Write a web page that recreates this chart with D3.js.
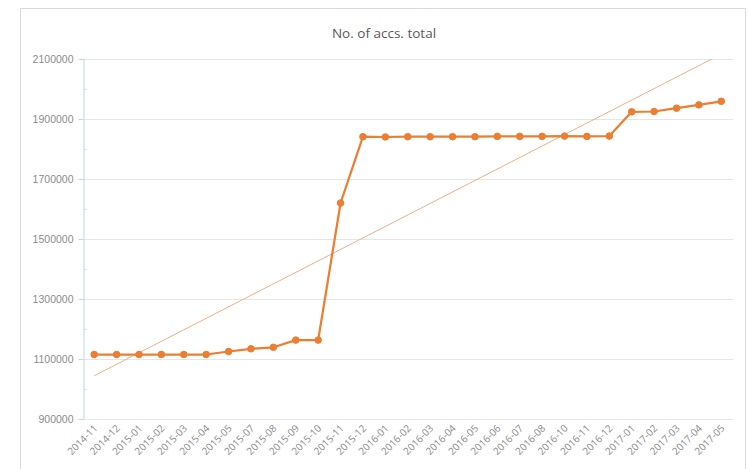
<!DOCTYPE html>
<html>
<head>
<meta charset="utf-8">
<script src="https://cdn.jsdelivr.net/npm/d3@7"></script>
<style>
  body { margin: 0; background: #fff; }
  svg { display: block; font-family: "Open Sans", "Liberation Sans", sans-serif; }
</style>
</head>
<body>
<div id="chartDiv"></div>
<script>
const months = ["2014-11", "2014-12", "2015-01", "2015-02", "2015-03", "2015-04", "2015-05",
    "2015-07", "2015-08", "2015-09", "2015-10", "2015-11", "2015-12", "2016-01", "2016-02",
    "2016-03", "2016-04", "2016-05", "2016-06", "2016-07", "2016-08", "2016-10", "2016-11",
    "2016-12", "2017-01", "2017-02", "2017-03", "2017-04", "2017-05"]
const accounts = [1115000, 1115000, 1115000, 1115000, 1115000, 1115000, 1125000,
    1134000, 1139000, 1163000, 1163000, 1620000, 1841000, 1840000, 1841000,
    1841000, 1841000, 1841000, 1842000, 1842000, 1842000, 1843000, 1842000,
    1843000, 1924000, 1925000, 1936000, 1947000, 1959000]
const yTicks = [900000, 1100000, 1300000, 1500000, 1700000, 1900000, 2100000]
const title = "No. of accs. total"

const width = 748
const height = 469
const margin = { left: 83, right: 15, top: 59, bottom: 50 }
const lineColor = "#ED7D31"
const trendColor = "#F5AD85"

const svg = d3.select("#chartDiv")
    .append("svg")
    .attr("width", width)
    .attr("height", height)

// chart area border
svg.append("rect")
    .attr("x", 20.5)
    .attr("y", 8.5)
    .attr("width", 725)
    .attr("height", 470)
    .attr("fill", "#fff")
    .attr("stroke", "#D9D9D9")

const xScale = d3.scaleBand()
    .domain(months)
    .range([margin.left, width - margin.right - 0.5])

const yScale = d3.scaleLinear()
    .domain([900000, 2100000])
    .range([height - margin.bottom, margin.top])

const cx = d => xScale(d) + xScale.bandwidth() / 2

// gridlines
svg.append("g")
    .selectAll("line")
    .data(yTicks)
    .enter()
    .append("line")
    .attr("x1", margin.left)
    .attr("x2", width - margin.right)
    .attr("y1", d => yScale(d) + 0.5)
    .attr("y2", d => yScale(d) + 0.5)
    .attr("stroke", "#E6E6E6")

// y-axis
const leftAxis = d3.axisLeft(yScale)
    .tickValues(yTicks)
    .tickFormat(d3.format("d"))
    .tickSize(5)
    .tickSizeOuter(0)
    .tickPadding(5)

const leftAxisGroup = svg.append("g")
    .attr("class", "leftAxis")
    .attr("transform", `translate(${margin.left + 0.5}, 0)`)
    .call(leftAxis)
leftAxisGroup.select(".domain").attr("stroke", "#BDD7EE")
leftAxisGroup.selectAll(".tick line").attr("stroke", "#BDD7EE")
leftAxisGroup.selectAll(".tick text")
    .attr("fill", "#8C8C8C")
    .style("font-size", "10.5px")

// minor ticks inside the axis
const minorTicks = d3.pairs(yTicks).map(([a, b]) => (a + b) / 2)
svg.append("g")
    .selectAll("line")
    .data(minorTicks)
    .enter()
    .append("line")
    .attr("x1", margin.left)
    .attr("x2", margin.left + 4)
    .attr("y1", d => yScale(d) + 0.5)
    .attr("y2", d => yScale(d) + 0.5)
    .attr("stroke", "#D6E4F2")

// x labels
svg.append("g")
    .selectAll("text")
    .data(months)
    .enter()
    .append("text")
    .attr("transform", d => `translate(${cx(d) + 4}, ${height - margin.bottom + 10}) rotate(-45)`)
    .attr("text-anchor", "end")
    .attr("fill", "#8C8C8C")
    .style("font-size", "10px")
    .text(d => d)

// linear trendline from least squares
const n = accounts.length
const xMean = d3.mean(accounts, (d, i) => i)
const yMean = d3.mean(accounts)
const slope = d3.sum(accounts, (d, i) => (i - xMean) * (d - yMean)) / d3.sum(accounts, (d, i) => (i - xMean) ** 2)
const intercept = yMean - slope * xMean

svg.append("clipPath")
    .attr("id", "plotClip")
    .append("rect")
    .attr("x", margin.left)
    .attr("y", margin.top)
    .attr("width", width - margin.right - margin.left)
    .attr("height", height - margin.bottom - margin.top)

svg.append("line")
    .attr("clip-path", "url(#plotClip)")
    .attr("x1", cx(months[0]))
    .attr("y1", yScale(intercept))
    .attr("x2", cx(months[n - 1]))
    .attr("y2", yScale(intercept + slope * (n - 1)))
    .attr("stroke", trendColor)
    .attr("stroke-width", 1)

// main series
const line = d3.line()
    .x((d, i) => cx(months[i]))
    .y(d => yScale(d))

svg.append("path")
    .datum(accounts)
    .attr("d", line)
    .attr("fill", "none")
    .attr("stroke", lineColor)
    .attr("stroke-width", 2.25)
    .attr("stroke-linejoin", "round")

svg.append("g")
    .selectAll("circle")
    .data(accounts)
    .enter()
    .append("circle")
    .attr("cx", (d, i) => cx(months[i]))
    .attr("cy", d => yScale(d))
    .attr("r", 3.3)
    .attr("fill", lineColor)
    .attr("stroke", lineColor)

// title
svg.append("text")
    .attr("x", 384)
    .attr("y", 38)
    .attr("text-anchor", "middle")
    .attr("fill", "#595959")
    .style("font-size", "13.5px")
    .text(title)
</script>
</body>
</html>
